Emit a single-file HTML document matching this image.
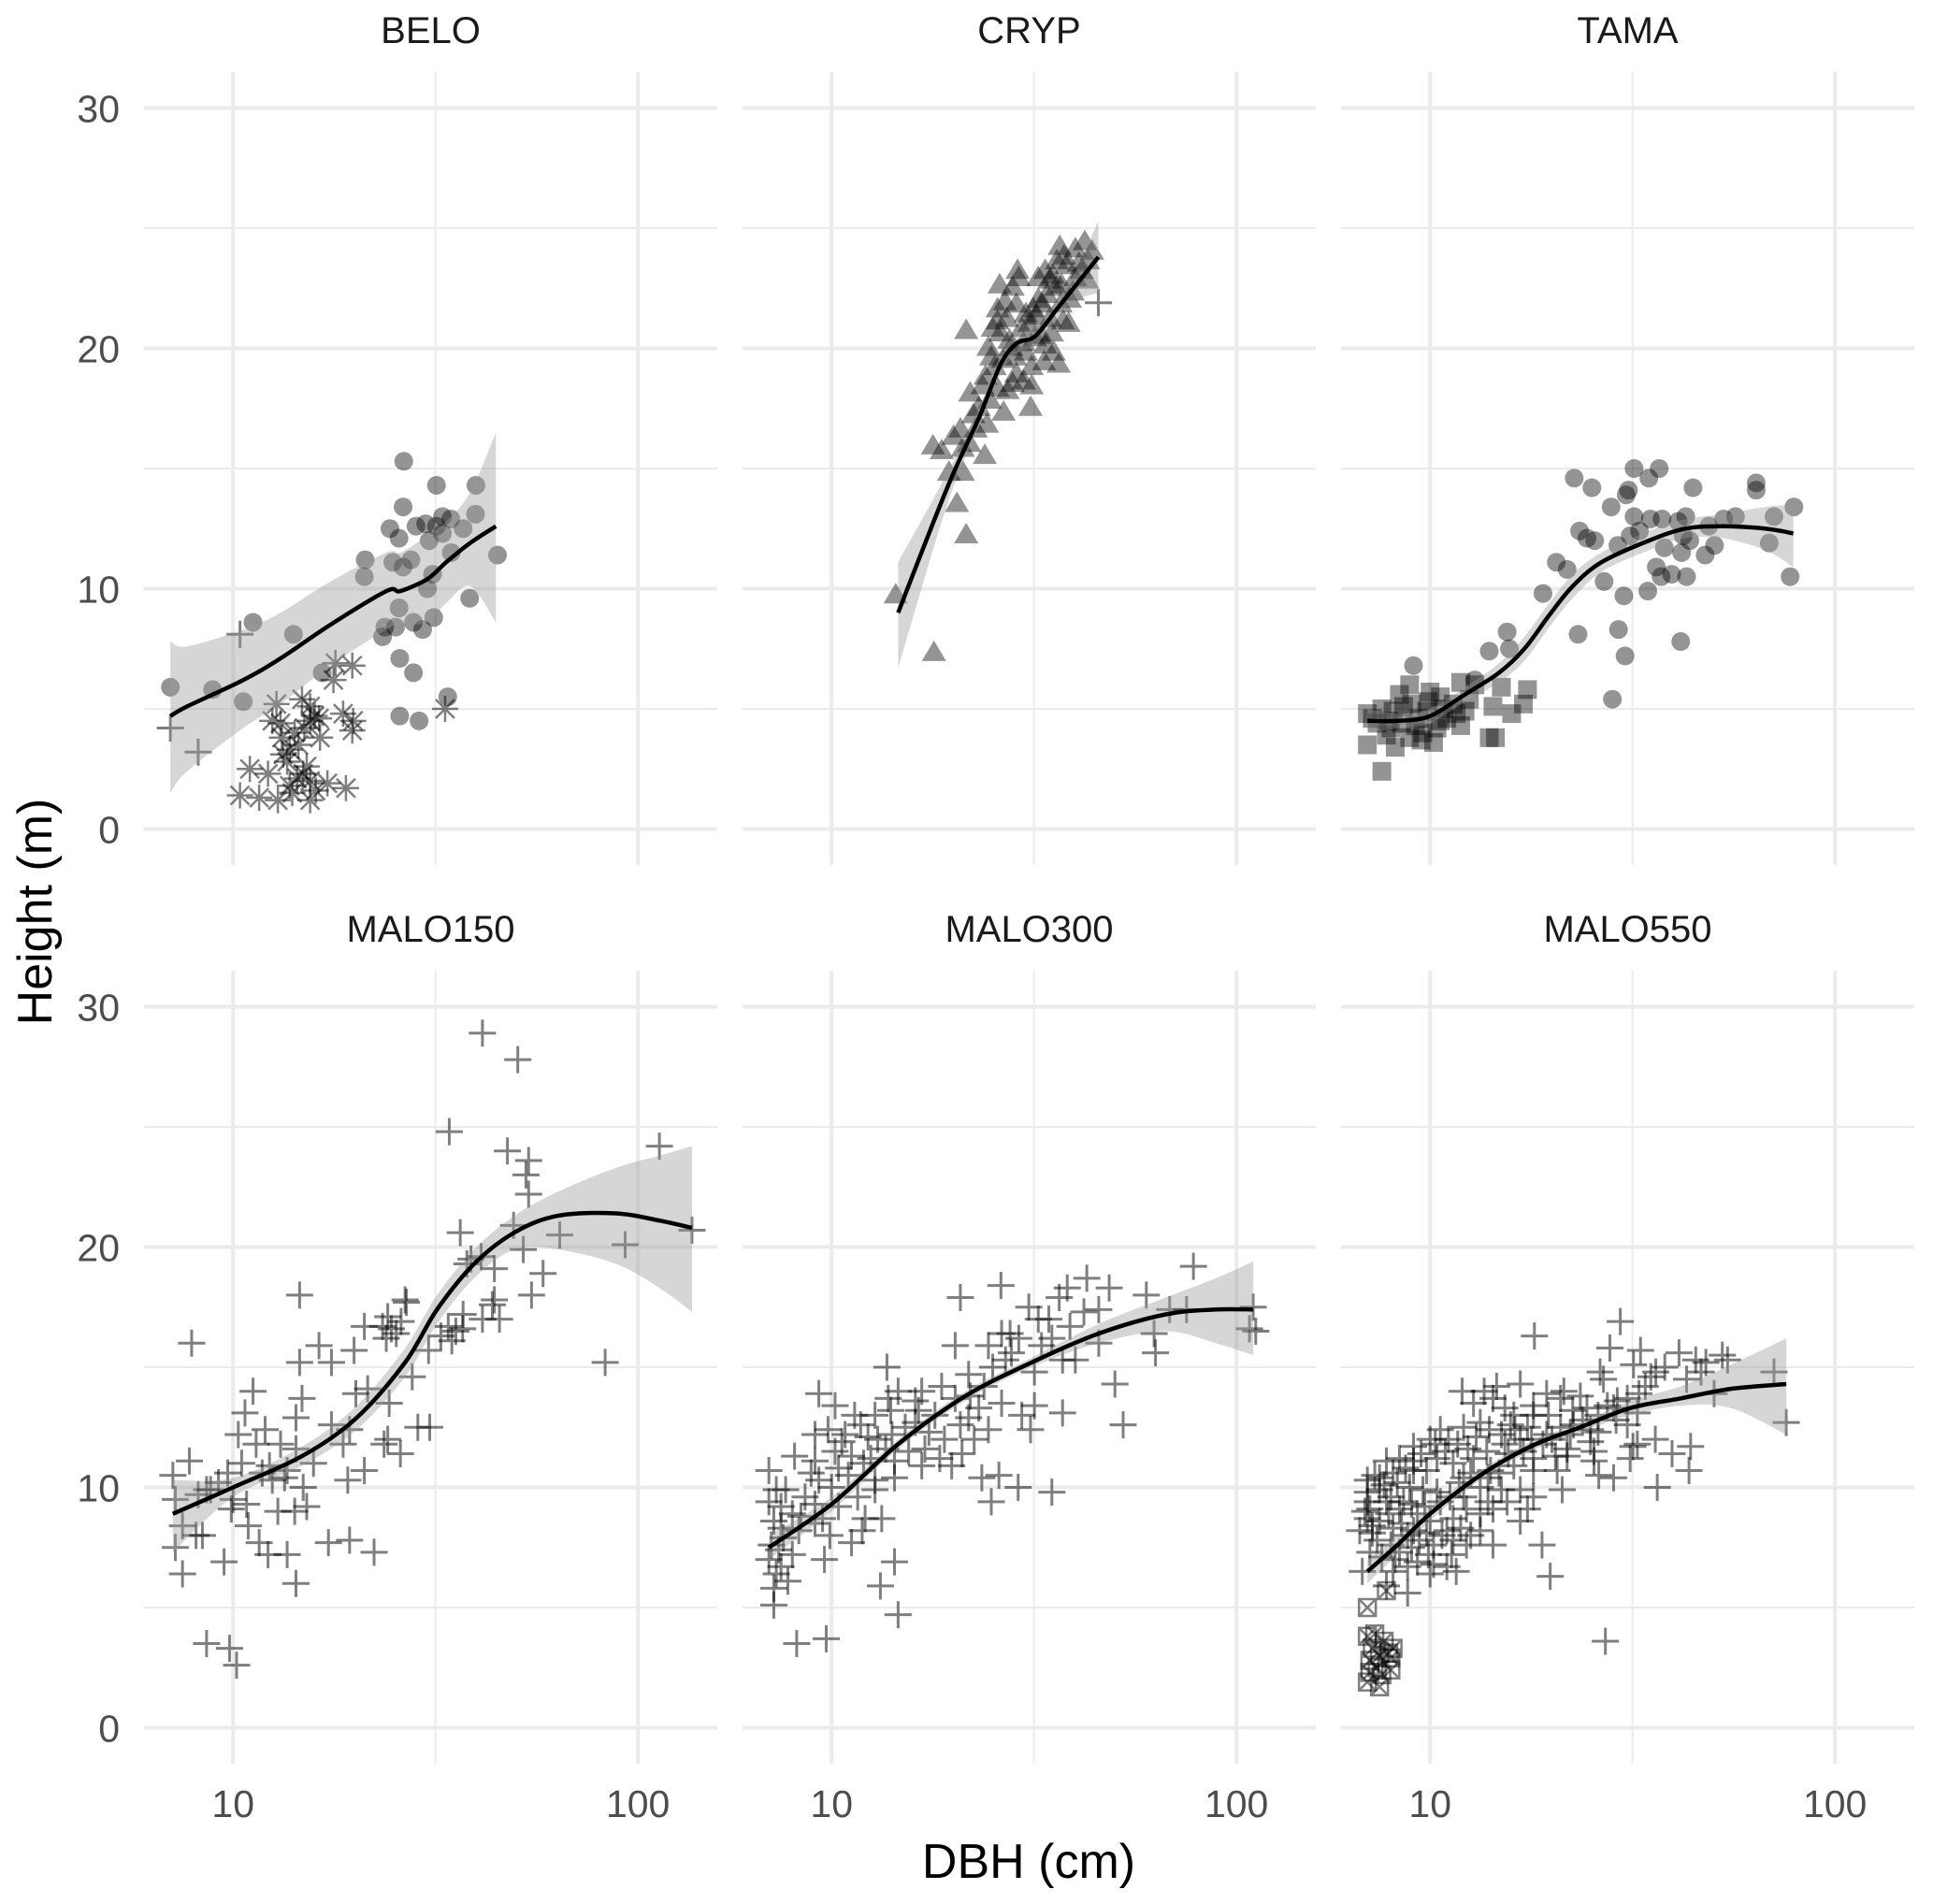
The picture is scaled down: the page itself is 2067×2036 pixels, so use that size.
<!DOCTYPE html>
<html><head><meta charset="utf-8"><style>
html,body{margin:0;padding:0;background:#fff}
svg{display:block}
text{font-family:"Liberation Sans",Arial,sans-serif}
</style></head><body>
<svg id="chart" xmlns="http://www.w3.org/2000/svg" width="2067" height="2036" viewBox="0 0 2067 2036"></svg>
<script>
// ---------- data ----------
const panelTitles = ["BELO","CRYP","TAMA","MALO150","MALO300","MALO550"];
const yTicks = [0,10,20,30];
const yMinor = [5,15,25];
const xTicks = [10,100];
const xTickLabels = ["10","100"];
const xMinor = [31.62];

const beloCircle = [[7.0,5.9],[8.9,5.8],[10.6,5.3],[11.2,8.6],[14.1,8.1],[16.6,6.5],[26.4,15.3],[31.8,14.3],[39.8,14.3],[26.3,13.4],[39.7,13.1],[32.9,13.0],[34.5,12.9],[24.4,12.5],[28.3,12.6],[29.9,12.7],[31.8,12.6],[37.0,12.5],[25.7,12.1],[30.5,12.0],[32.9,12.3],[21.2,11.2],[24.8,11.1],[27.5,11.2],[26.3,10.9],[34.6,11.5],[45.0,11.4],[21.1,10.5],[31.1,10.6],[30.2,10.0],[38.4,9.6],[25.7,9.2],[23.7,8.4],[25.2,8.4],[27.9,8.6],[31.3,8.8],[29.4,8.3],[23.4,8.0],[25.8,7.1],[27.9,6.5],[33.9,5.5],[25.8,4.7],[28.8,4.5]];
const beloPlus = [[7.0,4.2],[8.2,3.2],[10.4,8.1]];
const beloStar = [[19.7,6.8],[17.9,6.9],[17.7,6.2],[12.8,5.2],[14.8,5.4],[15.5,5.1],[18.7,4.8],[19.8,4.5],[12.5,4.5],[15.5,4.5],[19.7,4.1],[13.2,3.8],[14.2,4.0],[16.4,3.8],[13.3,3.1],[13.8,3.3],[11.0,2.5],[12.2,2.3],[14.4,2.1],[15.5,2.0],[17.1,1.9],[19.0,1.7],[10.4,1.4],[11.6,1.3],[12.9,1.2],[15.5,1.2],[13.8,1.8],[14.9,2.3],[33.4,5.0],[13.1,4.4],[15.9,4.7],[14.5,3.5],[15.0,4.2],[13.6,2.8],[16.0,1.6],[14.0,1.5],[15.2,2.6],[16.3,4.6]];
const beloFitD = [7.0,7.7,10.6,13.1,17.4,23.9,25.9,30.2,33.6,38.5,44.6];
const beloFit  = [4.7,5.1,6.2,7.1,8.5,9.9,9.9,10.4,11.1,11.9,12.6];
const beloLo   = [1.5,2.4,4.2,5.2,6.8,8.3,8.5,8.6,9.4,10.1,8.6];
const beloHi   = [7.8,7.6,8.3,9.0,10.3,11.5,11.5,12.2,12.8,14.0,16.5];

const crypTri = [[14.4,9.7],[17.9,7.3],[21.5,20.7],[20.4,13.5],[21.5,12.2],[17.8,15.9],[18.7,15.7],[20.0,16.3],[22.0,18.1],[19.5,14.8],[21.1,14.8],[23.9,15.5],[31.0,17.5],[26.6,17.3],[25.7,18.3],[28.0,18.5],[31.2,18.4],[36.4,19.3],[31.2,19.2],[28.6,18.9],[24.8,19.6],[25.7,21.6],[28.0,22.5],[28.6,21.8],[30.2,21.4],[32.4,22.0],[33.7,23.2],[36.6,24.2],[40.0,24.1],[42.2,24.4],[38.0,23.4],[35.9,22.5],[34.6,21.2],[37.3,21.1],[35.4,19.8],[33.0,20.5],[39.4,22.3],[43.0,23.6],[24.4,20.0],[26.1,20.6],[27.1,21.2],[23.1,17.5],[22.7,16.6],[20.8,16.6],[21.1,15.8],[30.2,19.8],[33.7,20.1],[40.0,22.9],[32.4,22.9],[25.7,21.1],[27.5,20.3],[29.5,20.8],[31.5,21.6],[34.5,22.8],[37.5,23.8],[41.5,23.2],[44.0,24.0],[24.0,18.8],[26.5,19.5],[29.0,22.9],[25.0,20.8],[26.8,21.9],[27.8,20.0],[29.8,20.2],[30.8,21.0],[32.0,21.3],[33.2,21.8],[34.0,22.2],[35.2,23.0],[36.0,23.6],[37.0,22.6],[38.8,22.0],[40.8,23.5],[42.8,22.8],[25.3,19.2],[23.6,18.4],[24.6,17.8],[27.2,18.2],[28.4,19.6],[29.8,18.6],[31.8,20.4],[33.5,19.4],[35.0,20.6],[36.8,21.8],[38.5,21.0],[22.4,17.2],[21.9,16.0],[24.2,16.8],[26.0,22.6],[28.8,23.2]];
const crypPlus = [[45.6,21.9]];
const crypFitD = [14.6,19.3,23.1,26.1,28.6,31.8,35.9,40,45.6];
const crypFit  = [9.0,14.2,17.1,19.3,20.2,20.5,21.6,22.6,23.8];
const crypLo   = [6.7,13.5,16.7,18.9,19.8,20.1,21.2,22.0,22.3];
const crypHi   = [11.1,14.8,17.5,19.7,20.6,20.9,22.0,23.2,25.3];

const tamaCircle = [[22.7,14.6],[25.1,14.2],[31.9,15.0],[36.8,15.0],[34.7,14.6],[30.9,14.1],[30.5,13.9],[44.6,14.2],[63.9,14.4],[63.9,14.1],[28.0,13.4],[79.2,13.4],[70.7,13.0],[31.9,13.0],[35.0,12.9],[37.4,12.9],[42.8,13.0],[41.0,12.8],[53.1,12.9],[56.8,13.0],[48.8,12.6],[23.4,12.4],[24.4,12.1],[25.5,12.0],[31.2,12.2],[32.9,12.4],[29.1,11.8],[42.2,12.2],[43.8,12.0],[37.9,11.7],[41.8,11.5],[47.8,11.4],[50.4,11.8],[68.8,11.9],[77.5,10.5],[20.5,11.1],[21.8,10.8],[26.9,10.3],[36.2,10.9],[37.2,10.5],[39.5,10.6],[43.0,10.5],[34.5,9.9],[19.0,9.8],[30.1,9.7],[15.5,8.2],[23.2,8.1],[29.2,8.3],[41.6,7.8],[14.0,7.4],[15.7,7.5],[30.3,7.2],[9.1,6.8],[12.9,6.2],[28.2,5.4]];
const tamaSquare = [[7.6,2.4],[7.0,3.5],[8.2,3.4],[10.2,3.6],[8.9,3.8],[14.0,3.8],[14.5,3.8],[7.0,4.8],[7.4,4.4],[7.9,4.5],[8.5,4.4],[9.4,4.6],[10.4,4.2],[11.0,4.6],[11.9,4.3],[12.2,4.9],[14.3,5.1],[15.9,4.8],[17.0,5.2],[17.4,5.8],[15.0,5.9],[11.9,6.1],[8.9,6.0],[10.0,5.7],[8.4,5.6],[10.6,5.5],[7.6,5.0],[9.0,5.2],[9.9,5.3],[11.4,5.2],[12.5,5.4],[12.9,6.0],[8.1,4.9],[10.6,4.5],[9.6,4.0],[7.2,4.6],[8.0,4.2],[9.2,4.3],[9.8,4.9],[10.8,5.0],[11.6,4.8],[8.6,5.1],[7.8,3.9],[9.5,3.7]];
const tamaFitD = [7.0,8.4,10.0,12.2,14.8,17.1,19.7,22.5,26.5,34.7,42.8,52.9,67.3,78.9];
const tamaFit  = [4.5,4.5,4.7,5.6,6.5,7.5,8.9,10.1,11.1,12.0,12.5,12.6,12.5,12.3];
const tamaLo   = [4.0,4.2,4.4,5.3,6.1,7.0,8.4,9.6,10.7,11.6,12.1,12.1,11.6,10.9];
const tamaHi   = [5.0,4.8,5.0,5.9,6.9,8.0,9.4,10.6,11.5,12.4,12.9,13.1,13.4,13.5];

const m150Plus = [[41.3,28.9],[50.5,27.8],[34.2,24.8],[47.6,24.0],[53.7,23.6],[52.9,23.0],[53.7,22.2],[113,24.2],[136,20.7],[93,20.1],[64.1,20.5],[83,15.2],[49.3,20.9],[36.4,20.6],[52.1,19.9],[58.3,18.9],[44.2,19.1],[54.6,18.0],[44.2,17.8],[37.8,19.3],[41.0,19.6],[45.5,17.0],[41.3,17.0],[36.9,16.6],[34.7,16.1],[32.6,16.3],[30.4,15.7],[27.7,14.6],[26.8,17.7],[24.1,17.1],[24.6,16.6],[23.4,16.7],[21.1,16.7],[19.9,15.7],[16.3,15.9],[14.6,15.2],[17.5,15.2],[14.6,18.0],[7.9,16.0],[21.5,14.1],[20.1,13.9],[24.3,13.5],[17.5,12.6],[14.8,13.7],[14.3,12.9],[11.2,14.0],[10.7,13.1],[11.4,11.8],[10.5,11.0],[12.3,10.9],[13.1,11.8],[7.8,11.1],[7.1,10.5],[8.8,9.9],[9.7,10.6],[12.5,10.3],[14.3,11.6],[15.8,11.0],[18.7,11.8],[19.4,12.4],[24.1,12.0],[23.6,11.8],[25.9,11.4],[28.6,12.5],[30.6,12.5],[21.1,10.7],[19.2,10.3],[14.9,10.0],[13.6,10.7],[15.2,9.2],[12.9,9.0],[14.2,9.0],[10.8,9.3],[10.0,9.5],[8.6,9.9],[7.2,9.5],[7.5,8.4],[8.1,8.0],[8.4,8.0],[10.9,8.4],[11.6,7.7],[12.2,7.2],[13.6,7.2],[17.2,7.7],[19.4,7.8],[22.3,7.3],[9.5,6.9],[7.5,6.4],[14.3,6.0],[7.2,7.5],[8.6,3.5],[9.8,3.3],[10.2,2.6],[26.6,17.8],[23.9,16.2],[34.0,16.7],[43.7,17.6],[38.7,19.5],[9.2,10.2],[11.8,10.6],[10.3,12.2],[12.0,12.4],[13.4,10.4],[9.9,9.1],[8.2,9.7],[26.0,16.9],[25.3,16.4],[35.5,16.5],[37.0,17.2]];
const m150FitD = [7.1,10,14.8,20.2,26.6,31.9,39.4,49.5,63.4,88.3,113,136];
const m150Fit  = [8.9,10.0,11.3,12.9,15.2,17.4,19.3,20.6,21.3,21.4,21.1,20.8];
const m150Lo   = [7.3,9.6,10.9,12.4,14.6,16.8,18.7,19.9,19.9,19.3,18.3,17.3];
const m150Hi   = [10.3,10.4,11.7,13.4,15.8,18.0,19.9,21.3,22.3,23.3,23.8,24.2];

const m300Plus = [[78.3,19.2],[42.7,18.7],[26.2,18.4],[38.2,18.3],[20.8,17.9],[48.5,18.3],[59.9,18.0],[68.4,17.4],[75.3,17.4],[110,17.5],[30.7,17.5],[32.4,17.0],[36.5,17.9],[45.7,17.4],[34.4,17.0],[26.3,16.4],[27.6,16.4],[35.0,16.2],[62.6,16.4],[107.7,16.6],[63.1,15.6],[20.2,15.9],[13.7,15.0],[24.4,15.9],[26.9,15.3],[40.0,15.3],[45.7,16.0],[37.2,15.3],[31.7,14.8],[50.1,14.3],[52.5,12.6],[21.8,14.7],[18.7,14.2],[16.7,14.0],[14.6,14.0],[13.8,13.7],[9.3,13.9],[10.2,13.4],[11.4,13.0],[12.8,13.0],[16.1,13.6],[20.2,13.7],[23.1,13.3],[26.3,13.5],[31.7,13.4],[37.2,13.1],[29.5,13.0],[31.0,12.4],[24.4,12.4],[21.8,12.9],[18.0,13.0],[16.1,12.7],[14.1,12.2],[9.1,12.2],[9.8,12.4],[10.8,12.2],[12.3,12.1],[8.1,11.3],[7.0,10.7],[9.1,11.1],[10.2,11.5],[11.2,11.3],[12.5,11.2],[14.3,11.1],[16.7,10.9],[19.8,10.9],[23.5,10.4],[25.9,10.5],[28.9,10.0],[35.0,9.8],[24.8,9.4],[14.3,10.4],[12.8,10.3],[11.0,10.5],[10.0,10.0],[7.7,9.9],[7.0,9.4],[7.5,9.2],[9.1,9.3],[8.4,8.8],[9.5,8.7],[12.1,8.7],[13.3,8.7],[7.5,8.3],[8.3,8.2],[9.1,8.5],[7.4,7.4],[11.2,7.7],[9.6,7.0],[7.0,7.0],[7.5,6.7],[7.8,6.1],[14.3,6.9],[13.2,5.9],[7.2,5.8],[7.2,5.1],[14.6,4.7],[8.2,3.5],[9.7,3.7],[111.6,16.5],[7.2,8.6],[7.6,7.9],[8.0,7.2],[8.6,9.6],[9.3,10.3],[10.6,11.9],[11.8,12.6],[13.0,12.0],[14.0,13.2],[15.2,12.5],[16.4,13.2],[17.4,12.3],[19.0,12.0],[20.8,12.6],[22.5,12.0],[13.6,11.6],[12.0,11.0],[10.4,10.8],[8.9,10.6],[7.3,9.9],[8.0,8.9],[15.5,11.5],[17.0,11.6],[18.5,11.2],[21.0,11.4],[22.0,13.8],[23.8,14.2],[25.0,15.0],[27.8,15.6],[29.0,16.2],[33.0,15.9],[38.8,16.7],[42.0,17.3],[11.6,9.6],[10.4,9.2],[12.8,9.9],[7.1,7.6],[7.3,6.4],[9.9,8.0],[11.9,8.2]];
const m300FitD = [7.0,10,14.6,21.4,31.2,45.7,66.9,89,110];
const m300Fit  = [7.5,9.3,11.8,13.8,15.2,16.4,17.2,17.4,17.4];
const m300Lo   = [7.0,9.0,11.6,13.6,15.0,16.0,16.5,16.0,15.5];
const m300Hi   = [8.0,9.6,12.0,14.0,15.4,16.8,17.9,18.7,19.4];

const m550Plus = [[29.5,16.9],[18.1,16.3],[27.1,3.6],[70.7,14.8],[75.8,12.7],[19.8,6.3],[36.4,10.0],[18.9,7.6],[44.0,11.7],[43.6,10.7],[39.6,11.4],[36.0,12.0],[32.5,11.8],[28.4,10.4],[26.1,10.5],[21.2,9.9],[25.4,11.5],[21.8,11.3],[27.8,15.8],[33.1,15.7],[41.2,15.6],[45.3,15.3],[52.7,15.5],[54.3,15.3],[46.7,14.8],[36.1,14.8],[31.8,15.1],[26.3,14.8],[26.8,14.5],[32.8,13.9],[50.3,13.9],[35.1,14.6],[30.7,13.7],[28.4,13.3],[23.5,13.8],[21.4,14.0],[19.4,13.9],[16.7,14.3],[14.6,14.2],[13.6,14.0],[12.0,14.0],[12.8,13.5],[14.3,13.7],[15.3,13.3],[18.0,13.4],[21.0,13.7],[24.4,13.3],[27.4,13.4],[32.5,13.1],[30.7,12.6],[24.9,12.4],[22.6,12.6],[21.0,12.5],[19.4,12.2],[17.4,12.5],[15.8,12.6],[15.0,12.2],[13.3,12.7],[12.1,12.5],[10.6,12.4],[15.3,11.8],[16.7,12.0],[18.0,11.2],[20.4,11.3],[21.8,11.6],[24.9,11.9],[25.4,11.1],[20.6,10.7],[18.0,10.7],[16.1,10.9],[14.1,10.7],[12.8,11.2],[11.4,11.0],[10.4,11.2],[9.8,10.7],[9.1,11.1],[8.4,11.2],[7.8,11.1],[10.9,11.5],[12.1,10.4],[13.3,10.0],[15.0,9.9],[16.7,9.9],[18.0,9.6],[17.4,9.1],[16.7,8.6],[14.3,9.1],[13.3,8.9],[12.3,9.1],[11.4,8.7],[10.6,9.4],[9.6,9.9],[8.9,10.0],[8.3,10.2],[7.5,9.9],[7.0,9.8],[7.1,9.1],[7.8,9.4],[8.4,9.1],[9.3,8.9],[10.0,8.6],[11.0,8.2],[11.9,8.3],[13.3,8.2],[14.3,7.6],[12.3,7.6],[11.4,7.8],[10.2,7.6],[9.4,7.8],[8.8,8.0],[8.1,8.3],[7.5,8.6],[7.0,8.7],[7.2,8.1],[8.0,7.6],[7.1,7.3],[7.6,7.1],[8.4,7.3],[9.3,6.9],[10.2,6.8],[11.6,6.5],[11.0,6.7],[10.0,6.4],[8.8,6.7],[8.1,6.5],[6.8,6.5],[7.8,5.9],[8.8,5.6],[7.5,10.4],[7.0,9.4],[6.7,8.2],[9.1,11.7],[10.0,12.0],[9.1,10.7],[13.8,11.5],[13.0,12.1],[18.0,13.0],[16.1,13.0],[31.7,11.7],[31.2,11.2],[12.1,9.6],[6.9,9.0],[7.3,10.5],[7.7,10.1],[8.0,9.6],[8.6,9.4],[9.0,9.3],[9.7,9.2],[10.4,9.8],[11.2,9.6],[11.8,10.2],[12.6,10.6],[13.9,10.4],[14.8,10.6],[15.6,11.4],[17.0,11.5],[19.0,11.8],[20.0,12.0],[22.2,12.2],[23.8,12.8],[26.0,13.0],[29.0,13.6],[34.0,14.2],[38.0,15.0],[43.0,14.5],[48.0,15.2],[7.2,8.4],[7.9,8.9],[8.5,8.5],[9.1,8.2],[9.8,8.1],[10.7,8.0],[12.6,8.0],[13.9,9.4],[15.5,9.4],[7.4,7.8],[8.2,7.0],[9.0,7.5],[9.9,7.2],[11.3,7.2],[7.0,10.3],[8.1,10.6],[8.7,10.8],[9.5,11.4],[10.3,11.8],[11.1,12.0],[11.7,11.8],[12.4,11.6],[14.0,12.4],[16.2,12.4],[17.8,12.0],[19.6,13.0],[22.5,13.2],[26.0,12.3],[28.8,12.8]];
const m550BoxX = [[7.0,5.0],[7.8,5.7],[7.0,3.8],[7.5,3.0],[7.1,2.8],[8.0,2.9],[7.4,2.5],[7.0,1.9],[7.5,1.7],[8.1,3.3],[7.7,3.6],[7.2,3.3],[8.0,2.4],[7.3,3.9],[7.6,2.2],[7.9,3.1],[7.1,2.3]];
const m550FitD = [7.0,8.3,10,13.3,17.7,23.5,31.2,41.5,55.3,75.8];
const m550Fit  = [6.5,7.6,8.9,10.5,11.7,12.5,13.3,13.7,14.1,14.3];
const m550Lo   = [6.0,7.2,8.6,10.3,11.5,12.3,13.0,13.4,13.3,12.2];
const m550Hi   = [7.0,8.0,9.2,10.7,11.9,12.7,13.6,14.2,15.1,16.2];

// ---------- layout ----------
const NS = "http://www.w3.org/2000/svg";
const svg = document.getElementById("chart");
const colLeft = [154, 794, 1434];
const panelW = 613;
const rowTop = [77, 1038];
const panelH = 848;
const logMin = 0.780, logMax = 2.196;
const hMin = -1.5, hMax = 31.5;

function xScale(col, d) { return colLeft[col] + (Math.log10(d) - logMin) / (logMax - logMin) * panelW; }
function yScale(row, h) { return rowTop[row] + (hMax - h) / (hMax - hMin) * panelH; }

function mk(tag, attrs, parent) {
  const e = document.createElementNS(NS, tag);
  for (const k in attrs) e.setAttribute(k, attrs[k]);
  (parent || svg).appendChild(e);
  return e;
}
function smoothPath(pts) {
  let d = "M" + pts[0][0].toFixed(1) + "," + pts[0][1].toFixed(1);
  for (let i = 0; i < pts.length - 1; i++) {
    const p0 = pts[Math.max(i - 1, 0)], p1 = pts[i], p2 = pts[i + 1], p3 = pts[Math.min(i + 2, pts.length - 1)];
    const c1 = [p1[0] + (p2[0] - p0[0]) / 6, p1[1] + (p2[1] - p0[1]) / 6];
    const c2 = [p2[0] - (p3[0] - p1[0]) / 6, p2[1] - (p3[1] - p1[1]) / 6];
    d += " C" + c1[0].toFixed(1) + "," + c1[1].toFixed(1) + " " + c2[0].toFixed(1) + "," + c2[1].toFixed(1) + " " + p2[0].toFixed(1) + "," + p2[1].toFixed(1);
  }
  return d;
}

const FILL = "rgba(0,0,0,0.42)";
const STROKE = "rgba(0,0,0,0.5)";

function drawPanel(idx) {
  const col = idx % 3, row = Math.floor(idx / 3);
  const g = mk("g", {});
  
  
  const x0 = colLeft[col], x1 = colLeft[col] + panelW, y0 = rowTop[row], y1 = rowTop[row] + panelH;
  yMinor.forEach(v => {
    const l = mk("line", {x1: x0, x2: x1, y1: yScale(row, v), y2: yScale(row, v), stroke: "#ebebeb", "stroke-width": 2}, g);
    
    
  });
  xMinor.forEach(v => {
    const l = mk("line", {x1: xScale(col, v), x2: xScale(col, v), y1: y0, y2: y1, stroke: "#ebebeb", "stroke-width": 2}, g);
    
    
  });
  yTicks.forEach(v => {
    const l = mk("line", {x1: x0, x2: x1, y1: yScale(row, v), y2: yScale(row, v), stroke: "#ebebeb", "stroke-width": 4}, g);
    
    
  });
  xTicks.forEach(v => {
    const l = mk("line", {x1: xScale(col, v), x2: xScale(col, v), y1: y0, y2: y1, stroke: "#ebebeb", "stroke-width": 4}, g);
    
    
  });
  const t = mk("text", {x: x0 + panelW / 2, y: row === 0 ? 46 : 1007, "text-anchor": "middle", "font-size": 40, fill: "#1a1a1a"}, g);
  t.textContent = panelTitles[idx];
  
  
  if (col === 0) {
    yTicks.forEach(v => {
      const tl = mk("text", {x: 128, y: yScale(row, v) + 15, "text-anchor": "end", "font-size": 41, fill: "#4d4d4d"});
      tl.textContent = String(v);
      
      
    });
  }
  if (row === 1) {
    xTicks.forEach((v, i) => {
      const tl = mk("text", {x: xScale(col, v), y: 1943, "text-anchor": "middle", "font-size": 41, fill: "#4d4d4d"});
      tl.textContent = xTickLabels[i];
      
      
    });
  }
  return g;
}

function circles(g, col, row, arr) {
  arr.forEach(p => {
    const c = mk("circle", {cx: xScale(col, p[0]), cy: yScale(row, p[1]), r: 10, fill: FILL}, g);
    
    
  });
}
function squares(g, col, row, arr) {
  arr.forEach(p => {
    const x = xScale(col, p[0]), y = yScale(row, p[1]);
    const c = mk("rect", {x: x - 10, y: y - 10, width: 20, height: 20, fill: FILL}, g);
    
    
  });
}
function triangles(g, col, row, arr) {
  arr.forEach(p => {
    const x = xScale(col, p[0]), y = yScale(row, p[1]);
    const c = mk("polygon", {points: `${x},${y - 14} ${x + 13},${y + 8} ${x - 13},${y + 8}`, fill: FILL}, g);
    
    
  });
}
function pluses(g, col, row, arr) {
  arr.forEach(p => {
    const x = xScale(col, p[0]), y = yScale(row, p[1]);
    const c = mk("path", {d: `M${x - 14.5},${y}H${x + 14.5}M${x},${y - 14.5}V${y + 14.5}`, stroke: STROKE, "stroke-width": 3, fill: "none"}, g);
    
    
  });
}
function stars(g, col, row, arr) {
  arr.forEach(p => {
    const x = xScale(col, p[0]), y = yScale(row, p[1]), a = 10;
    const c = mk("path", {d: `M${x - 14},${y}H${x + 14}M${x},${y - 14}V${y + 14}M${x - a},${y - a}L${x + a},${y + a}M${x - a},${y + a}L${x + a},${y - a}`, stroke: STROKE, "stroke-width": 2.5, fill: "none"}, g);
    
    
  });
}
function boxX(g, col, row, arr) {
  arr.forEach(p => {
    const x = xScale(col, p[0]), y = yScale(row, p[1]), a = 9;
    const c = mk("path", {d: `M${x - a},${y - a}H${x + a}V${y + a}H${x - a}ZM${x - a},${y - a}L${x + a},${y + a}M${x - a},${y + a}L${x + a},${y - a}`, stroke: STROKE, "stroke-width": 2.5, fill: "none"}, g);
    
    
  });
}
function smooth(g, col, row, D, F, LO, HI) {
  const hi = D.map((d, i) => [xScale(col, d), yScale(row, HI[i])]);
  const lo = D.map((d, i) => [xScale(col, d), yScale(row, LO[i])]).reverse();
  const hiPath = smoothPath(hi);
  const loPath = smoothPath(lo).replace(/^M/, "L");
  const rib = mk("path", {d: hiPath + " " + loPath + " Z", fill: "rgba(153,153,153,0.4)", stroke: "none"}, g);
  
  
  const fit = D.map((d, i) => [xScale(col, d), yScale(row, F[i])]);
  const ln = mk("path", {d: smoothPath(fit), fill: "none", stroke: "#000", "stroke-width": 4.5}, g);
  
  
}

let g;
g = drawPanel(0); circles(g, 0, 0, beloCircle); pluses(g, 0, 0, beloPlus); stars(g, 0, 0, beloStar); smooth(g, 0, 0, beloFitD, beloFit, beloLo, beloHi);
g = drawPanel(1); triangles(g, 1, 0, crypTri); pluses(g, 1, 0, crypPlus); smooth(g, 1, 0, crypFitD, crypFit, crypLo, crypHi);
g = drawPanel(2); squares(g, 2, 0, tamaSquare); circles(g, 2, 0, tamaCircle); smooth(g, 2, 0, tamaFitD, tamaFit, tamaLo, tamaHi);
g = drawPanel(3); pluses(g, 0, 1, m150Plus); smooth(g, 0, 1, m150FitD, m150Fit, m150Lo, m150Hi);
g = drawPanel(4); pluses(g, 1, 1, m300Plus); smooth(g, 1, 1, m300FitD, m300Fit, m300Lo, m300Hi);
g = drawPanel(5); pluses(g, 2, 1, m550Plus); boxX(g, 2, 1, m550BoxX); smooth(g, 2, 1, m550FitD, m550Fit, m550Lo, m550Hi);

const yt = mk("text", {x: 0, y: 0, transform: "translate(55,975) rotate(-90)", "text-anchor": "middle", "font-size": 52, fill: "#000"});
yt.textContent = "Height (m)";


const xt = mk("text", {x: 1100, y: 2008, "text-anchor": "middle", "font-size": 52, fill: "#000"});
xt.textContent = "DBH (cm)";


</script>
</body></html>
